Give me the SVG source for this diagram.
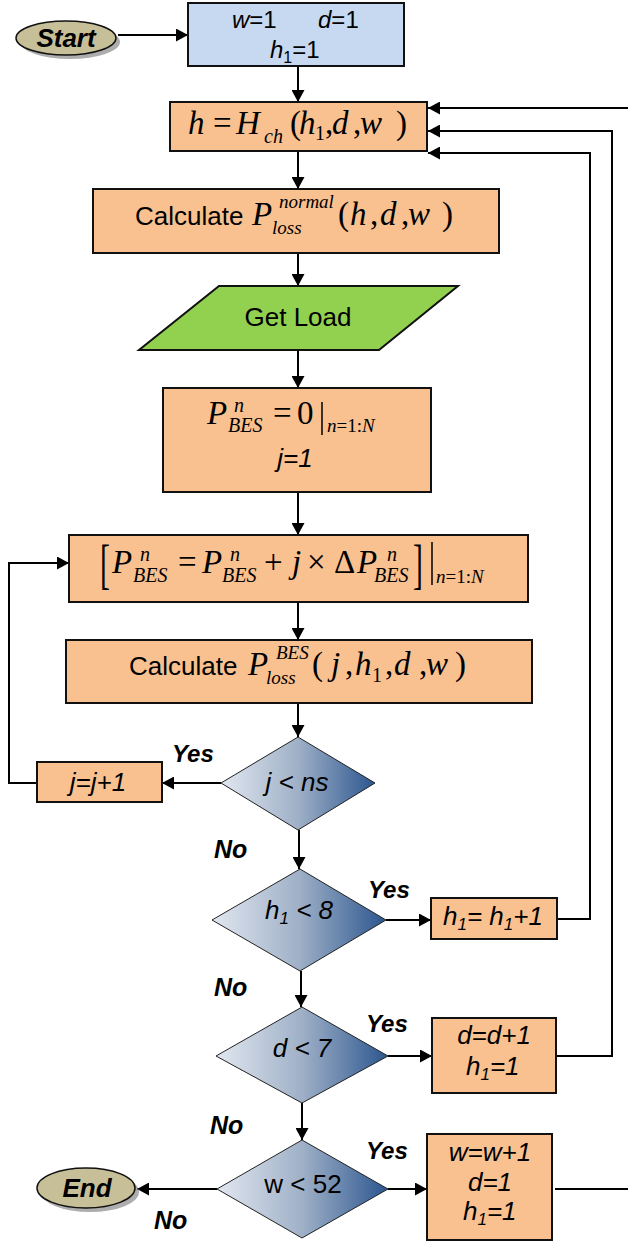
<svg xmlns="http://www.w3.org/2000/svg" width="628" height="1241" viewBox="0 0 628 1241">
<defs>
<marker id="ah" markerUnits="userSpaceOnUse" markerWidth="13" markerHeight="13" refX="12" refY="6.5" orient="auto">
<path d="M0,0 L12,6.5 L0,13 z" fill="#000"/>
</marker>
<linearGradient id="dg" x1="0" y1="0" x2="1" y2="0">
<stop offset="0" stop-color="#e1e7f0"/>
<stop offset="0.5" stop-color="#9fb0c7"/>
<stop offset="1" stop-color="#2c568f"/>
</linearGradient>
</defs>
<style>
.box{fill:#f9c090;stroke:#111;stroke-width:2}
.dia{fill:url(#dg);stroke:#222;stroke-width:1}
.ell{fill:#c7bf98;stroke:#111;stroke-width:1.5}
.shd{fill:#8a8a8a;opacity:0.7}
.lbl{font-family:"Liberation Sans",Arial,sans-serif;fill:#000}
.it{font-style:italic}
.bi{font-style:italic;font-weight:bold}
.m{font-family:"Liberation Serif","Times New Roman",serif;fill:#000}
.mi{font-style:italic}
.con{fill:none;stroke:#000;stroke-width:2}
</style>

<g id="connectors">
<line class="con" x1="118" y1="35" x2="188" y2="35" marker-end="url(#ah)"/>
<line class="con" x1="298" y1="66" x2="298" y2="102" marker-end="url(#ah)"/>
<line class="con" x1="298" y1="151" x2="298" y2="189" marker-end="url(#ah)"/>
<line class="con" x1="298" y1="253" x2="298" y2="286" marker-end="url(#ah)"/>
<line class="con" x1="298" y1="350" x2="298" y2="388" marker-end="url(#ah)"/>
<line class="con" x1="298" y1="492" x2="298" y2="535" marker-end="url(#ah)"/>
<line class="con" x1="298" y1="602" x2="298" y2="640" marker-end="url(#ah)"/>
<line class="con" x1="298" y1="703" x2="298" y2="737" marker-end="url(#ah)"/>
<line class="con" x1="221" y1="783" x2="162" y2="783" marker-end="url(#ah)"/>
<polyline class="con" points="37,783 9,783 9,563 69,563" marker-end="url(#ah)"/>
<line class="con" x1="299" y1="830" x2="299" y2="869" marker-end="url(#ah)"/>
<line class="con" x1="386" y1="920" x2="431" y2="920" marker-end="url(#ah)"/>
<polyline class="con" points="557,919 590,919 590,153 428,153" marker-end="url(#ah)"/>
<line class="con" x1="301" y1="971" x2="301" y2="1007" marker-end="url(#ah)"/>
<line class="con" x1="388" y1="1056" x2="432" y2="1056" marker-end="url(#ah)"/>
<polyline class="con" points="556,1056 612,1056 612,131 428,131" marker-end="url(#ah)"/>
<line class="con" x1="302" y1="1103" x2="302" y2="1140" marker-end="url(#ah)"/>
<line class="con" x1="388" y1="1189" x2="427" y2="1189" marker-end="url(#ah)"/>
<polyline class="con" points="555,1189 631,1189 631,108 428,108" marker-end="url(#ah)"/>
<line class="con" x1="217" y1="1189" x2="137" y2="1189" marker-end="url(#ah)"/>
</g>

<g id="start">
<ellipse class="shd" cx="70" cy="42" rx="50" ry="17"/>
<ellipse class="ell" cx="66" cy="38" rx="50" ry="17"/>
<text class="lbl bi" x="66" y="47" text-anchor="middle" font-size="26">Start</text>
</g>

<g id="init">
<rect x="188" y="3" width="216" height="63" fill="#c6d9f1" stroke="#111" stroke-width="2"/>
<text class="lbl" x="232" y="28" font-size="24"><tspan class="it">w</tspan>=1</text>
<text class="lbl" x="318" y="28" font-size="24"><tspan class="it">d</tspan>=1</text>
<text class="lbl" x="270" y="58" font-size="24"><tspan class="it">h</tspan><tspan font-size="16" dy="5">1</tspan><tspan dy="-5">=1</tspan></text>
</g>

<g id="hch">
<rect class="box" x="170" y="102" width="257" height="49"/>
<text class="m" y="134" font-size="33"><tspan class="mi" x="188">h</tspan><tspan x="213">=</tspan><tspan class="mi" x="236">H</tspan><tspan class="mi" x="264" y="143" font-size="20">ch</tspan><tspan x="290" y="134">(</tspan><tspan class="mi" x="299">h</tspan><tspan x="315" y="140" font-size="20">1</tspan><tspan x="325" y="134">,</tspan><tspan class="mi" x="332">d</tspan><tspan x="353">,</tspan><tspan class="mi" x="360">w</tspan><tspan x="396">)</tspan></text>
</g>

<g id="calc-normal">
<rect class="box" x="93" y="189" width="406" height="64"/>
<text class="lbl" x="135" y="225" font-size="26">Calculate</text>
<text class="m" y="225" font-size="33"><tspan class="mi" x="252">P</tspan><tspan class="mi" x="279" y="208" font-size="19">normal</tspan><tspan class="mi" x="272" y="234" font-size="19">loss</tspan><tspan x="338" y="225">(</tspan><tspan class="mi" x="350">h</tspan><tspan x="370">,</tspan><tspan class="mi" x="380">d</tspan><tspan x="401">,</tspan><tspan class="mi" x="408">w</tspan><tspan x="442">)</tspan></text>
</g>

<g id="getload">
<polygon points="219,286 458,286 379,350 139,350" fill="#92d050" stroke="#111" stroke-width="2"/>
<text class="lbl" x="298" y="326" text-anchor="middle" font-size="26">Get Load</text>
</g>

<g id="pbes-init">
<rect class="box" x="163" y="388" width="268" height="104"/>
<text class="m" y="424" font-size="33"><tspan class="mi" x="207">P</tspan><tspan class="mi" x="234" y="412" font-size="20">n</tspan><tspan class="mi" x="228" y="432" font-size="20">BES</tspan><tspan x="273" y="424">=</tspan><tspan x="297">0</tspan><tspan class="mi" x="327" y="432" font-size="19">n</tspan><tspan font-size="19">=1:</tspan><tspan class="mi" font-size="19">N</tspan></text>
<line x1="322" y1="402" x2="322" y2="435" stroke="#000" stroke-width="1.5"/>
<text class="lbl it" x="295" y="467" text-anchor="middle" font-size="26">j=1</text>
</g>

<g id="pbes-update">
<rect class="box" x="69" y="535" width="459" height="67"/>
<text class="m" transform="translate(100,583) scale(0.55,1)" font-size="54">[</text>
<text class="m" y="573" font-size="33"><tspan class="mi" x="112">P</tspan><tspan class="mi" x="140" y="561" font-size="20">n</tspan><tspan class="mi" x="133" y="582" font-size="20">BES</tspan><tspan x="178" y="573">=</tspan><tspan class="mi" x="202">P</tspan><tspan class="mi" x="230" y="561" font-size="20">n</tspan><tspan class="mi" x="222" y="582" font-size="20">BES</tspan><tspan x="264" y="573">+</tspan><tspan class="mi" x="292">j</tspan><tspan x="307">×</tspan><tspan x="334">Δ</tspan><tspan class="mi" x="357">P</tspan><tspan class="mi" x="387" y="561" font-size="20">n</tspan><tspan class="mi" x="374" y="582" font-size="20">BES</tspan><tspan class="mi" x="436" y="583" font-size="19">n</tspan><tspan font-size="19">=1:</tspan><tspan class="mi" font-size="19">N</tspan></text>
<text class="m" transform="translate(413,583) scale(0.55,1)" font-size="54">]</text>
<line x1="432" y1="542" x2="432" y2="585" stroke="#000" stroke-width="1.5"/>
</g>

<g id="calc-bes">
<rect class="box" x="66" y="640" width="466" height="63"/>
<text class="lbl" x="129" y="675" font-size="26">Calculate</text>
<text class="m" y="675" font-size="33"><tspan class="mi" x="248">P</tspan><tspan class="mi" x="276" y="659" font-size="19">BES</tspan><tspan class="mi" x="266" y="684" font-size="19">loss</tspan><tspan x="312" y="675">(</tspan><tspan class="mi" x="331">j</tspan><tspan x="345">,</tspan><tspan class="mi" x="355">h</tspan><tspan x="372" y="682" font-size="20">1</tspan><tspan x="385" y="675">,</tspan><tspan class="mi" x="394">d</tspan><tspan x="419">,</tspan><tspan class="mi" x="426">w</tspan><tspan x="455">)</tspan></text>
</g>

<g id="dec-j">
<polygon class="dia" points="298,737 375,783 298,830 221,783"/>
<text class="lbl it" x="297" y="791" text-anchor="middle" font-size="26">j &lt; ns</text>
<text class="lbl bi" x="172" y="762" font-size="24">Yes</text>
<text class="lbl bi" x="214" y="858" font-size="25">No</text>
</g>

<g id="j-inc">
<rect class="box" x="37" y="762" width="125" height="40"/>
<text class="lbl it" x="98" y="791" text-anchor="middle" font-size="26">j=j+1</text>
</g>

<g id="dec-h1">
<polygon class="dia" points="300,869 386,920 300,971 212,920"/>
<text class="lbl it" x="265" y="919" font-size="26">h<tspan font-size="17" dy="5">1</tspan><tspan dy="-5"> &lt; 8</tspan></text>
<text class="lbl bi" x="368" y="898" font-size="24">Yes</text>
<text class="lbl bi" x="214" y="996" font-size="25">No</text>
</g>

<g id="h1-inc">
<rect class="box" x="431" y="898" width="126" height="41"/>
<text class="lbl it" x="443" y="925" font-size="26">h<tspan font-size="17" dy="5">1</tspan><tspan dy="-5">= h</tspan><tspan font-size="17" dy="5">1</tspan><tspan dy="-5">+1</tspan></text>
</g>

<g id="dec-d">
<polygon class="dia" points="302,1007 388,1056 302,1103 216,1056"/>
<text class="lbl it" x="302" y="1057" text-anchor="middle" font-size="26">d &lt; 7</text>
<text class="lbl bi" x="366" y="1032" font-size="24">Yes</text>
<text class="lbl bi" x="210" y="1134" font-size="25">No</text>
</g>

<g id="d-inc">
<rect class="box" x="432" y="1018" width="124" height="75"/>
<text class="lbl it" x="494" y="1044" text-anchor="middle" font-size="26">d=d+1</text>
<text class="lbl it" x="466" y="1075" font-size="26">h<tspan font-size="17" dy="5">1</tspan><tspan dy="-5">=1</tspan></text>
</g>

<g id="dec-w">
<polygon class="dia" points="302,1140 388,1189 302,1238 217,1189"/>
<text class="lbl" x="303" y="1193" text-anchor="middle" font-size="26">w &lt; 52</text>
<text class="lbl bi" x="366" y="1159" font-size="24">Yes</text>
<text class="lbl bi" x="154" y="1229" font-size="25">No</text>
</g>

<g id="w-inc">
<rect class="box" x="427" y="1134" width="125" height="106"/>
<text class="lbl it" x="490" y="1161" text-anchor="middle" font-size="26">w=w+1</text>
<text class="lbl it" x="490" y="1191" text-anchor="middle" font-size="26">d=1</text>
<text class="lbl it" x="463" y="1220" font-size="26">h<tspan font-size="17" dy="5">1</tspan><tspan dy="-5">=1</tspan></text>
</g>

<g id="end">
<ellipse class="shd" cx="90" cy="1192" rx="49" ry="20"/>
<ellipse class="ell" cx="86" cy="1188" rx="49" ry="20"/>
<text class="lbl bi" x="87" y="1197" text-anchor="middle" font-size="26">End</text>
</g>
</svg>
